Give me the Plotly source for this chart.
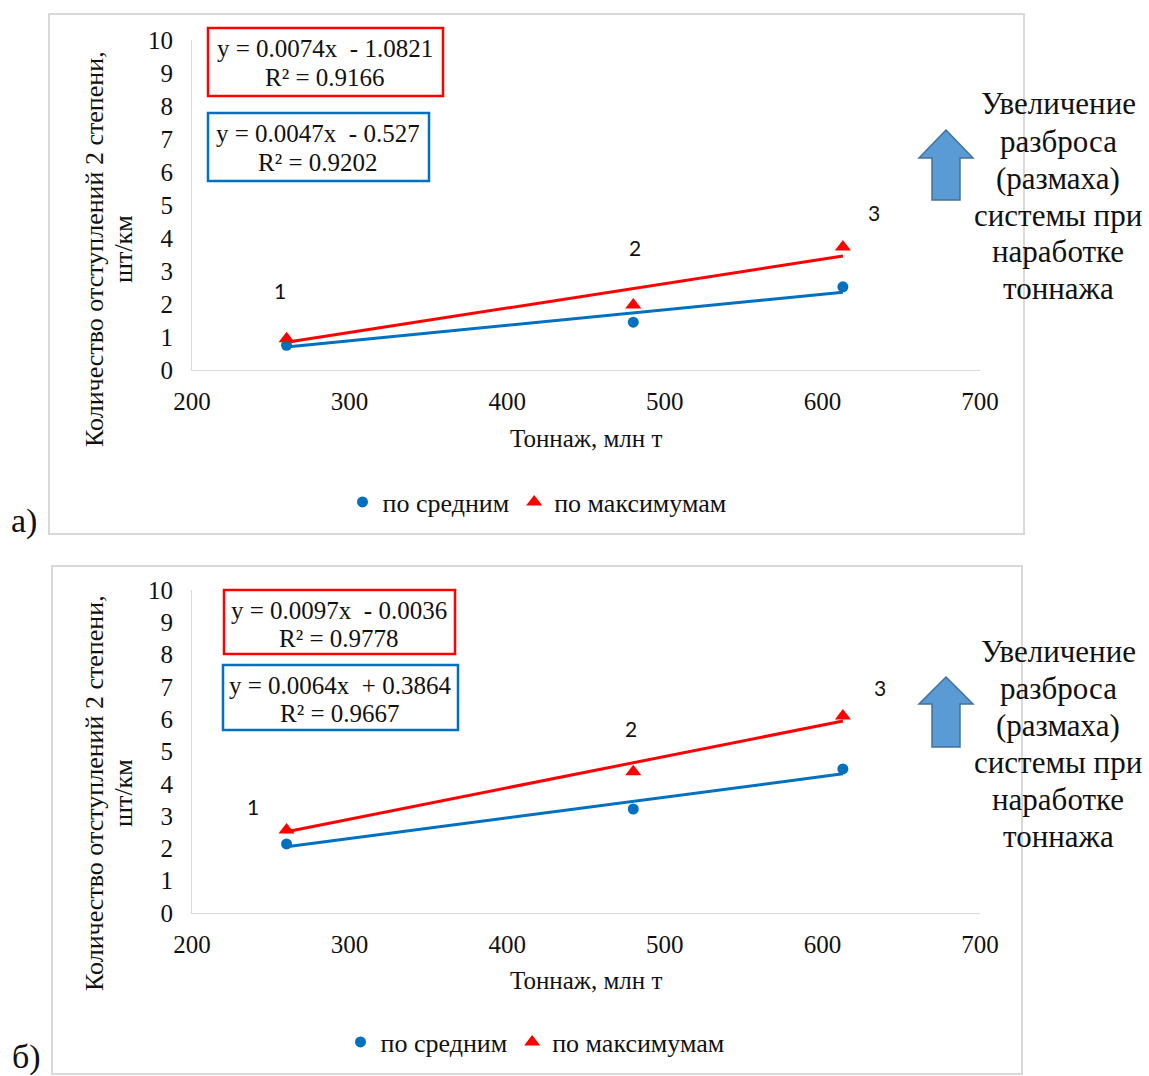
import plotly.graph_objects as go

W, H = 1149, 1076

def px(x):
    return x / W

def py(y):
    return 1 - y / H

# --- data -------------------------------------------------------------------
tonnage = [260, 480, 613]

# panel а)
avg_a = [0.75, 1.45, 2.52]
max_a = [0.95, 1.97, 3.73]
fit_avg_a = (0.0047, -0.527, 0.9202)
fit_max_a = (0.0074, -1.0821, 0.9166)

# panel б)
avg_b = [2.14, 3.22, 4.46]
max_b = [2.57, 4.37, 6.10]
fit_avg_b = (0.0064, 0.3864, 0.9667)
fit_max_b = (0.0097, -0.0036, 0.9778)

point_labels = ["1", "2", "3"]
label_x_a = [256, 481, 633]
label_y_a = [2.42, 3.70, 4.76]
label_x_b = [239, 478.5, 636.5]
label_y_b = [3.30, 5.70, 6.97]

x_ticks = [200, 300, 400, 500, 600, 700]
y_ticks = list(range(0, 11))

series_names = ["по средним", "по максимумам"]
x_title = "Тоннаж, млн т"
y_title_lines = ["Количество отступлений 2 степени,", "шт/км"]
side_note = ["Увеличение", "разброса", "(размаха)", "системы при", "наработке", "тоннажа"]

BLUE = "#0070C0"
RED = "#FF0000"
SERIF = "Liberation Serif"
TXT = "#111111"
GRID = "#d9d9d9"


def equation_lines(fit):
    k, b, r2 = fit
    sign = "-" if b < 0 else "+"
    return [f"y = {k:.4f}x  {sign} {abs(b):g}", f"R² = {r2:.4f}"]


def trend(fit):
    k, b, _ = fit
    xs = [min(tonnage), max(tonnage)]
    return xs, [k * x + b for x in xs]


fig = go.Figure()

panels = [
    dict(xa="x", ya="y", legend="legend", avg=avg_a, mx=max_a,
         fa=fit_avg_a, fm=fit_max_a),
    dict(xa="x2", ya="y2", legend="legend2", avg=avg_b, mx=max_b,
         fa=fit_avg_b, fm=fit_max_b),
]

for p in panels:
    xs, ys = trend(p["fm"])
    fig.add_trace(go.Scatter(x=xs, y=ys, mode="lines", line=dict(color=RED, width=3),
                             xaxis=p["xa"], yaxis=p["ya"], showlegend=False, hoverinfo="skip"))
    xs, ys = trend(p["fa"])
    fig.add_trace(go.Scatter(x=xs, y=ys, mode="lines", line=dict(color=BLUE, width=3),
                             xaxis=p["xa"], yaxis=p["ya"], showlegend=False, hoverinfo="skip"))
    fig.add_trace(go.Scatter(x=tonnage, y=p["avg"], mode="markers", name=series_names[0],
                             marker=dict(color=BLUE, size=11, symbol="circle"),
                             xaxis=p["xa"], yaxis=p["ya"], legend=p["legend"]))
    fig.add_trace(go.Scatter(x=tonnage, y=p["mx"], mode="markers", name=series_names[1],
                             marker=dict(color=RED, size=14, symbol="triangle-up"),
                             xaxis=p["xa"], yaxis=p["ya"], legend=p["legend"]))

axis_common = dict(
    showgrid=False, zeroline=False, showline=True, linecolor=GRID, linewidth=1,
    ticks="", tickfont=dict(family=SERIF, size=25, color=TXT), automargin=False,
)
x_common = dict(range=[200, 700], tickvals=x_ticks, ticklabelstandoff=9,
                domain=[px(192), px(980)], **axis_common)
y_common = dict(range=[0, 10], tickvals=y_ticks, ticklabelstandoff=13, **axis_common)

legend_common = dict(orientation="h", xanchor="center", yanchor="middle",
                     font=dict(family=SERIF, size=26, color=TXT), bgcolor="rgba(0,0,0,0)",
                     itemclick=False, itemdoubleclick=False)

fig.update_layout(
    width=W, height=H,
    margin=dict(l=0, r=0, t=0, b=0, autoexpand=False),
    paper_bgcolor="white", plot_bgcolor="white",
    xaxis=dict(anchor="y", **x_common),
    yaxis=dict(anchor="x", domain=[py(370), py(40)], **y_common),
    xaxis2=dict(anchor="y2", **x_common),
    yaxis2=dict(anchor="x2", domain=[py(913), py(590)], **y_common),
    legend=dict(x=px(537), y=py(502), **legend_common),
    legend2=dict(x=px(535), y=py(1042), **legend_common),
)

shapes = []
# chart frames
shapes.append(dict(type="rect", xref="paper", yref="paper",
                   x0=px(49), x1=px(1024), y0=py(534), y1=py(14),
                   line=dict(color=GRID, width=2)))
shapes.append(dict(type="rect", xref="paper", yref="paper",
                   x0=px(52), x1=px(1022), y0=py(1074), y1=py(566),
                   line=dict(color=GRID, width=2)))


def up_arrow(tip_y, head_y, bottom_y):
    pts = [(946, tip_y), (973, head_y), (960, head_y), (960, bottom_y),
           (932, bottom_y), (932, head_y), (919, head_y)]
    path = "M " + " L ".join(f"{px(x):.5f},{py(y):.5f}" for x, y in pts) + " Z"
    return dict(type="path", xref="paper", yref="paper", path=path,
                fillcolor="#5B9BD5", line=dict(color="#41719C", width=1.5))


shapes.append(up_arrow(130, 158, 200))
shapes.append(up_arrow(677, 704, 747))

ann = []


def paper_text(cx, cy, text, size, family=SERIF, **kw):
    d = dict(xref="paper", yref="paper", x=px(cx), y=py(cy), text=text, showarrow=False,
             xanchor="center", yanchor="middle", font=dict(family=family, size=size, color=TXT))
    d.update(kw)
    ann.append(d)


def eq_box(x0, x1, y0, y1, cx, line_ys, fit, color):
    shapes.append(dict(type="rect", xref="paper", yref="paper",
                       x0=px(x0), x1=px(x1), y0=py(y1), y1=py(y0),
                       line=dict(color=color, width=2.5), fillcolor="white"))
    for t, ly in zip(equation_lines(fit), line_ys):
        paper_text(cx, ly, t, 25)


eq_box(208, 443, 28, 96, 325, (48, 78), fit_max_a, RED)
eq_box(208, 429, 113, 181, 318, (133, 163), fit_avg_a, BLUE)
eq_box(224, 455, 590, 654, 339, (610, 638), fit_max_b, RED)
eq_box(223, 458, 665, 730, 340, (685, 713), fit_avg_b, BLUE)

fig.update_layout(shapes=shapes)

# point numbers
for xa, ya, lx, ly in [("x", "y", label_x_a, label_y_a), ("x2", "y2", label_x_b, label_y_b)]:
    for t, x, y in zip(point_labels, lx, ly):
        ann.append(dict(xref=xa, yref=ya, x=x, y=y, text=t, showarrow=False,
                        xanchor="center", yanchor="middle",
                        font=dict(family="Lato", size=21, color=TXT)))

# axis titles
for cy_x, cy_y in [(438, 249), (980, 793)]:
    paper_text(586, cy_x, x_title, 25)
    paper_text(94, cy_y, y_title_lines[0], 26, textangle=-90)
    paper_text(123, cy_y, y_title_lines[1], 26, textangle=-90)

# side note next to each panel
for top in (104, 651):
    for i, line in enumerate(side_note):
        paper_text(1058, top + 37 * i, line, 31)

# panel letters
paper_text(24, 521, "а)", 34)
paper_text(26, 1057, "б)", 34)

fig.update_layout(annotations=ann)

fig.write_html("out.html")
